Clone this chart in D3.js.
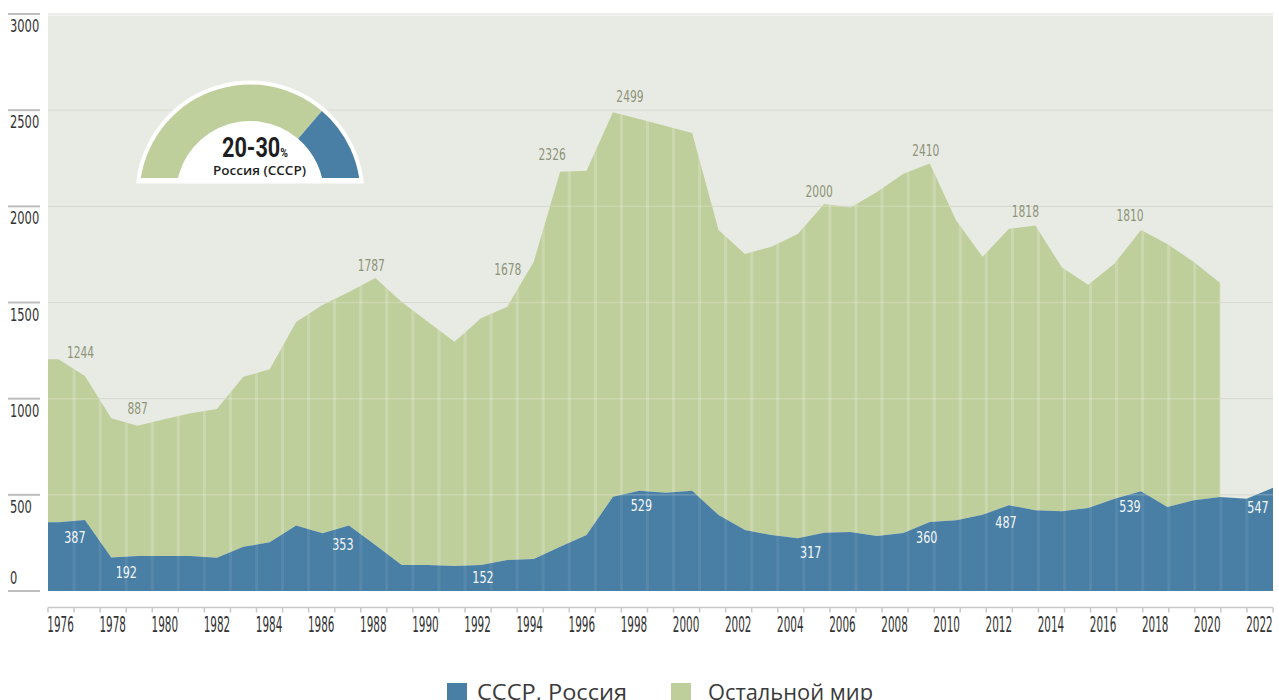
<!DOCTYPE html>
<html><head><meta charset="utf-8">
<script src="https://cdn.jsdelivr.net/npm/d3@7/dist/d3.min.js"></script>
<style>body{margin:0;background:#fff}svg{display:block}</style>
</head><body>
<svg id="chart" width="1279" height="700"></svg>
<script>
// ---------- DATA ----------
const years = [1976,1977,1978,1979,1980,1981,1982,1983,1984,1985,1986,1987,1988,1989,1990,1991,1992,1993,1994,1995,1996,1997,1998,1999,2000,2001,2002,2003,2004,2005,2006,2007,2008,2009,2010,2011,2012,2013,2014,2015,2016,2017,2018,2019,2020,2021,2022];
const russia = [357,369,174,182,182,182,173,230,253,340,300,340,239,135,135,130,135,161,166,230,291,490,521,511,521,395,317,291,274,303,307,286,302,359,368,397,446,420,414,432,480,519,437,472,489,480,537];
const restOfWorld = [848,749,724,677,711,742,773,884,900,1059,1187,1215,1388,1368,1264,1166,1283,1317,1546,1950,1894,1999,1933,1907,1860,1482,1435,1499,1582,1709,1687,1789,1868,1864,1558,1341,1437,1480,1269,1160,1223,1358,1367,1239,1112,null,null];
const seriesNames = ["СССР, Россия", "Остальной мир"];
const yTickValues = [0,500,1000,1500,2000,2500,3000];
const xLabelYears = [1976,1978,1980,1982,1984,1986,1988,1990,1992,1994,1996,1998,2000,2002,2004,2006,2008,2010,2012,2014,2016,2018,2020,2022];
const totalLabelYears = [1976,1979,1988,1994,1995,1997,2005,2009,2013,2017];
const totalLabelTexts = ["1244","887","1787","1678","2326","2499","2000","2410","1818","1810"];
const russiaLabelYears = [1977,1978,1987,1992,1998,2004,2009,2012,2017,2022];
const russiaLabelTexts = ["387","192","353","152","529","317","360","487","539","547"];
const gaugeRange = [20, 30];
const gaugeTitle = "Россия (СССР)";

// ---------- LAYOUT / STYLE ----------
const W = 1279, H = 700;
const L = 48, R = 1273, BASE = 591, TOP = 14;
const C_BLUE = "#4a7fa5", C_GREEN = "#bfcf9b", C_BG = "#e8ebe4";
const condensed = "'Liberation Sans Narrow','DejaVu Sans Condensed',Roboto,sans-serif";

const svg = d3.select("#chart");

const rows = years.map((yr, i) => ({year: yr, russia: russia[i], rest: restOfWorld[i]}));
const y = d3.scaleLinear().domain([0, 3000]).range([BASE, TOP]);
const xData = d3.scaleLinear().domain([years[0], years[years.length-1]]).range([58.5, R]);
const xBand = d3.scaleBand().domain(years).range([L, R]).paddingInner(0).paddingOuter(0);

const stack = d3.stack().keys(["russia", "rest"]).value((d, k) => d[k] == null ? 0 : d[k]);
// extend the first row flat to the left edge of the plot
const drawRows = [{...rows[0], year: xData.invert(L)}, ...rows];
const series = stack(drawRows);

// plot background
svg.append("rect").attr("x", L).attr("y", y(3000) + 1.5).attr("width", R - L).attr("height", BASE - y(3000) - 1.5).attr("fill", C_BG);

// gridlines under
svg.append("g").selectAll("line").data(yTickValues.filter(v => v > 0)).join("line")
  .attr("x1", L).attr("x2", R).attr("y1", d => y(d)).attr("y2", d => y(d))
  .attr("stroke", "#dadcd4").attr("stroke-width", 1.2);

const areaGen = d3.area()
  .x(d => xData(d.data.year))
  .y0(d => y(d[0])).y1(d => y(d[1]));

const blueArea = areaGen(series[0]);
const greenArea = d3.area().defined(d => d.data.rest != null)
  .x(d => xData(d.data.year)).y0(d => y(d[0])).y1(d => y(d[1]))(series[1]);

const defs = svg.append("defs");
defs.append("clipPath").attr("id", "clipBlue").append("path").attr("d", blueArea);
defs.append("clipPath").attr("id", "clipGreen").append("path").attr("d", greenArea);
const cu = defs.append("clipPath").attr("id", "clipAll");
cu.append("path").attr("d", blueArea);
cu.append("path").attr("d", greenArea);

svg.append("path").attr("d", greenArea).attr("fill", C_GREEN);
svg.append("path").attr("d", blueArea).attr("fill", C_BLUE);

// vertical stripes at year boundaries
const stripeX = years.slice(1).map(yr => xBand(yr));
svg.append("g").attr("clip-path", "url(#clipGreen)").selectAll("line").data(stripeX).join("line")
  .attr("x1", d => d).attr("x2", d => d).attr("y1", TOP).attr("y2", BASE)
  .attr("stroke", "#fff").attr("stroke-opacity", 0.2).attr("stroke-width", 3);
svg.append("g").attr("clip-path", "url(#clipBlue)").selectAll("line").data(stripeX).join("line")
  .attr("x1", d => d).attr("x2", d => d).attr("y1", TOP).attr("y2", BASE)
  .attr("stroke", "#fff").attr("stroke-opacity", 0.07).attr("stroke-width", 3);

// gridlines over areas
svg.append("g").attr("clip-path", "url(#clipAll)").selectAll("line").data(yTickValues.filter(v => v > 0)).join("line")
  .attr("x1", L).attr("x2", R).attr("y1", d => y(d)).attr("y2", d => y(d))
  .attr("stroke", "#fff").attr("stroke-opacity", 0.2).attr("stroke-width", 1.5);

// y axis ticks + labels
const ya = svg.append("g");
ya.selectAll("line").data(yTickValues).join("line")
  .attr("x1", 8).attr("x2", 40).attr("y1", d => y(d)).attr("y2", d => y(d))
  .attr("stroke", "#bdbdbd").attr("stroke-width", 2);
ya.selectAll("text").data(yTickValues).join("text")
  .attr("x", 10).attr("y", d => d === 0 ? y(d) - 7 : y(d) + 18)
  .attr("font-family", condensed).attr("font-size", 17.5).attr("fill", "#333")
  .attr("textLength", d => String(d).length * 7.3).attr("lengthAdjust", "spacingAndGlyphs")
  .text(d => d);

// x axis
const AX = 607.5;
const xa = svg.append("g");
xa.append("line").attr("x1", L).attr("x2", R).attr("y1", AX).attr("y2", AX).attr("stroke", "#c9c9c9").attr("stroke-width", 1.5);
const tickX = years.map(yr => xBand(yr)).concat([R]);
xa.selectAll("line.t").data(tickX).join("line").attr("class", "t")
  .attr("x1", d => d).attr("x2", d => d).attr("y1", AX).attr("y2", AX + 5)
  .attr("stroke", "#c9c9c9").attr("stroke-width", 1.5);
xa.selectAll("text").data(xLabelYears).join("text")
  .attr("x", d => xBand(d) + xBand.bandwidth() / 2 - 0.5).attr("y", 631.5)
  .attr("text-anchor", "middle")
  .attr("font-family", condensed).attr("font-size", 20.5).attr("fill", "#333")
  .attr("textLength", 26.5).attr("lengthAdjust", "spacingAndGlyphs")
  .text(d => d);

// value labels
const totalNudge = [[22,-7],[0,-17],[-4,-13],[-26,8],[-8,-17],[17,-16],[-5,-13],[-4,-13],[-10,-14],[-11,-14]];
const russiaNudge = [[-10,17],[15,14],[-6,18],[2,12],[2,14],[13,14],[-3,15],[-3,17],[-11,15],[-15,19]];
const rowOf = yr => rows[years.indexOf(yr)];
svg.append("g").selectAll("text").data(totalLabelYears).join("text")
  .attr("x", (d, i) => xData(d) + totalNudge[i][0])
  .attr("y", (d, i) => y(rowOf(d).russia + rowOf(d).rest) + totalNudge[i][1] + 5.5)
  .attr("text-anchor", "middle").attr("font-family", condensed).attr("font-size", 15.5)
  .attr("fill", "#8d9379")
  .attr("textLength", (d, i) => totalLabelTexts[i].length * 6.8).attr("lengthAdjust", "spacingAndGlyphs")
  .text((d, i) => totalLabelTexts[i]);
svg.append("g").selectAll("text").data(russiaLabelYears).join("text")
  .attr("x", (d, i) => xData(d) + russiaNudge[i][0])
  .attr("y", (d, i) => y(rowOf(d).russia) + russiaNudge[i][1] + 6)
  .attr("text-anchor", "middle").attr("font-family", condensed).attr("font-size", 16.5)
  .attr("fill", "#f4f7f9")
  .attr("textLength", (d, i) => russiaLabelTexts[i].length * 7.1).attr("lengthAdjust", "spacingAndGlyphs")
  .text((d, i) => russiaLabelTexts[i]);

// gauge
const gx = 250, gy = 195, rOut = 110.5, rIn = 74, clipY = 178;
const g = svg.append("g").attr("transform", `translate(${gx},${gy})`);
defs.append("clipPath").attr("id", "gClipW").append("rect").attr("x", -130).attr("y", -130).attr("width", 260).attr("height", clipY + 5.5 - gy + 130);
defs.append("clipPath").attr("id", "gClip").append("rect").attr("x", -130).attr("y", -130).attr("width", 260).attr("height", clipY - gy + 130);
g.append("path").attr("clip-path", "url(#gClipW)")
  .attr("d", d3.arc()({innerRadius: 0, outerRadius: rOut + 4, startAngle: -Math.PI / 2 - 0.4, endAngle: Math.PI / 2 + 0.4}))
  .attr("fill", "#fff");
const a0 = Math.asin((gy - clipY) / rOut);
const ang = d3.scaleLinear().domain([0, 1]).range([-Math.PI / 2 + a0, Math.PI / 2 - a0]);
const share = d3.mean(gaugeRange) / 100;
const arcG = d3.arc().innerRadius(rIn).outerRadius(rOut);
const gaugeData = [
  {s: -Math.PI / 2, e: ang(1 - share), c: C_GREEN},
  {s: ang(1 - share), e: Math.PI / 2, c: C_BLUE}
];
g.append("g").attr("clip-path", "url(#gClip)").selectAll("path").data(gaugeData).join("path")
  .attr("d", d => arcG({startAngle: d.s, endAngle: d.e})).attr("fill", d => d.c);
const pct = g.append("text").attr("x", -28).attr("y", 157 - gy)
  .attr("font-family", "Roboto,'Liberation Sans',sans-serif").attr("font-weight", 700).attr("font-size", 27)
  .attr("fill", "#1e1e1e").attr("textLength", 66).attr("lengthAdjust", "spacingAndGlyphs");
pct.append("tspan").text(`${gaugeRange[0]}-${gaugeRange[1]}`);
pct.append("tspan").attr("font-size", 13).text("%");
g.append("text").attr("x", 9.5).attr("y", 175 - gy).attr("text-anchor", "middle")
  .attr("font-family", "'Open Sans','Noto Sans',sans-serif").attr("font-weight", 600).attr("font-size", 12)
  .attr("fill", "#1e1e1e").attr("textLength", 93).attr("lengthAdjust", "spacingAndGlyphs")
  .text(gaugeTitle);

// legend
const legendX = [447, 671];
const legendColors = [C_BLUE, C_GREEN];
const legendLen = [150, 165];
const lg = svg.append("g").selectAll("g").data(seriesNames).join("g")
  .attr("transform", (d, i) => `translate(${legendX[i]},0)`);
lg.append("rect").attr("x", 0).attr("y", 683).attr("width", 20).attr("height", 20).attr("fill", (d, i) => legendColors[i]);
lg.append("text").attr("x", (d, i) => i === 0 ? 30 : 37).attr("y", 700)
  .attr("font-family", "'Open Sans','Noto Sans',sans-serif").attr("font-size", 21).attr("fill", "#3a3a3a")
  .attr("textLength", (d, i) => legendLen[i]).attr("lengthAdjust", "spacingAndGlyphs")
  .text(d => d);
</script>
</body></html>
